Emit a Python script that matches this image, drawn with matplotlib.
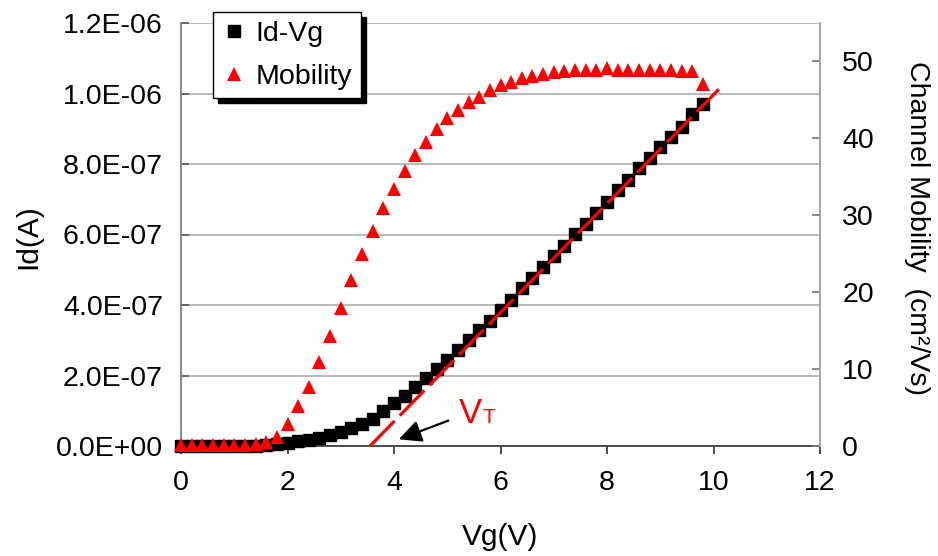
import matplotlib
matplotlib.use("Agg")
import matplotlib.pyplot as plt
from matplotlib.lines import Line2D
from matplotlib.ticker import FormatStrFormatter, MultipleLocator

plt.rcParams['font.family'] = ['Liberation Sans', 'DejaVu Sans']

# Gate voltage sweep (V)
vg = [0.0, 0.2, 0.4, 0.6, 0.8, 1.0, 1.2, 1.4, 1.6, 1.8,
      2.0, 2.2, 2.4, 2.6, 2.8, 3.0, 3.2, 3.4, 3.6, 3.8,
      4.0, 4.2, 4.4, 4.6, 4.8, 5.0, 5.2, 5.4, 5.6, 5.8,
      6.0, 6.2, 6.4, 6.6, 6.8, 7.0, 7.2, 7.4, 7.6, 7.8,
      8.0, 8.2, 8.4, 8.6, 8.8, 9.0, 9.2, 9.4, 9.6, 9.8]

# Drain current (units of 1e-7 A)
id_e7 = [0.00, 0.00, 0.00, 0.00, 0.00, 0.00, 0.00, 0.01, 0.02, 0.05,
         0.09, 0.13, 0.17, 0.24, 0.30, 0.40, 0.50, 0.63, 0.78, 0.98,
         1.21, 1.42, 1.67, 1.92, 2.18, 2.44, 2.72, 3.01, 3.29, 3.56,
         3.86, 4.14, 4.47, 4.76, 5.08, 5.39, 5.67, 6.01, 6.30, 6.62,
         6.91, 7.26, 7.55, 7.88, 8.16, 8.49, 8.77, 9.06, 9.42, 9.70]

# Channel mobility (cm^2/Vs)
mobility = [0.1, 0.1, 0.1, 0.1, 0.1, 0.1, 0.1, 0.3, 0.5, 1.2,
            2.8, 5.2, 7.7, 10.9, 14.3, 18.0, 21.6, 25.0, 28.0, 30.9,
            33.4, 35.8, 37.8, 39.5, 41.2, 42.7, 43.7, 44.7, 45.4, 46.3,
            46.9, 47.3, 47.8, 48.1, 48.4, 48.6, 48.8, 48.9, 48.9, 48.9,
            49.2, 48.9, 48.9, 48.9, 48.9, 48.9, 48.9, 48.7, 48.7, 47.1]

# Linear extrapolation of the Id-Vg curve (threshold voltage fit)
fit_vg = [3.55, 10.1]
fit_id = [0.0, 1.012e-6]

# Threshold annotation (arrow tail / head, label anchors)
vt_arrow_from = (5.02, 0.72e-7)
vt_arrow_to = (4.09, 0.19e-7)
vt_label_xy = (5.22, 0.66e-7)
vt_sub_xy = (5.66, 0.66e-7)

W, H = 938, 556
fig = plt.figure(figsize=(W / 100, H / 100), dpi=100)
ax = fig.add_axes([181 / W, 1 - 446 / H, (820 - 181) / W, (446 - 23) / H])

id_a = [v * 1e-7 for v in id_e7]

ax.plot(vg, id_a, linestyle='none', marker='s', markersize=8.3,
        color='black', zorder=3, clip_on=False)
ax.plot(fit_vg, fit_id, color='#ff0000', lw=2.3, dashes=(11, 2.3),
        zorder=4, solid_capstyle='butt', dash_capstyle='butt')

ax.set_xlim(0, 12)
ax.set_ylim(0, 1.2e-6)
ax.xaxis.set_major_locator(MultipleLocator(2))
ax.yaxis.set_major_locator(MultipleLocator(2e-7))
ax.yaxis.set_major_formatter(FormatStrFormatter('%.1E'))
ax.grid(axis='y', color='#b4b4b4', lw=1.3, zorder=0)
ax.set_axisbelow(True)

for s in ('top', 'right'):
    ax.spines[s].set_visible(False)
ax.spines['left'].set_color('#808080')
ax.spines['left'].set_linewidth(1.3)
ax.spines['bottom'].set_color('#404040')
ax.spines['bottom'].set_linewidth(1.3)

ax.tick_params(axis='y', direction='in', length=6, width=1.3,
               color='#606060', labelsize=20.5, pad=13)
ax.tick_params(axis='x', direction='out', length=6, width=1.3,
               color='#404040', labelsize=20.5, pad=11)

ax2 = ax.twinx()
ax2.plot(vg, mobility, linestyle='none', marker='^', markersize=10.5,
         color='#ff0000', markeredgewidth=0, zorder=3, clip_on=False)
ax2.set_ylim(0, 55)
ax2.yaxis.set_major_locator(MultipleLocator(10))
for s in ('top', 'left', 'bottom'):
    ax2.spines[s].set_visible(False)
ax2.spines['right'].set_color('#a0a0a0')
ax2.spines['right'].set_linewidth(1.3)
ax2.tick_params(axis='y', direction='in', length=6, width=1.3,
                color='#808080', labelsize=20.5, pad=16)

ax2.annotate('', xy=vt_arrow_to, xytext=vt_arrow_from,
             xycoords=ax.transData, textcoords=ax.transData,
             arrowprops=dict(arrowstyle='-|>,head_length=0.55,head_width=0.27',
                             mutation_scale=25, color='black', lw=1.6,
                             shrinkA=0, shrinkB=0))
ax2.text(*vt_label_xy, 'V', transform=ax.transData, color='#ff0000',
         fontsize=25, ha='left', va='baseline')
ax2.text(*vt_sub_xy, 'T', transform=ax.transData, color='#ff0000',
         fontsize=15, ha='left', va='baseline')

fig.text(28 / W, 1 - 237 / H, 'Id(A)', rotation=90, ha='center',
         va='center', fontsize=21.5)
fig.text(500 / W, 1 - 537 / H, 'Vg(V)', ha='center', va='center',
         fontsize=21.5)
fig.text(917 / W, 1 - 228 / H, 'Channel Mobility  (cm²/Vs)', rotation=-90,
         ha='center', va='center', fontsize=20.5)

handles = [Line2D([], [], linestyle='none', marker='s', markersize=8.3,
                  color='black'),
           Line2D([], [], linestyle='none', marker='^', markersize=10.5,
                  color='#ff0000', markeredgewidth=0)]
leg = fig.legend(handles, ['Id-Vg', 'Mobility'], loc='upper left',
                 bbox_to_anchor=(213 / W, 1 - 12 / H), fontsize=20.5,
                 frameon=True, fancybox=False, edgecolor='black',
                 framealpha=1, borderpad=0.3, labelspacing=0.6,
                 handlelength=0.9, handletextpad=0.3, borderaxespad=0,
                 shadow={'color': 'black', 'alpha': 1, 'ox': 3.5, 'oy': -3.5})
leg.get_frame().set_linewidth(1.0)
leg.set_zorder(10)

fig.savefig('out.png', dpi=100)
